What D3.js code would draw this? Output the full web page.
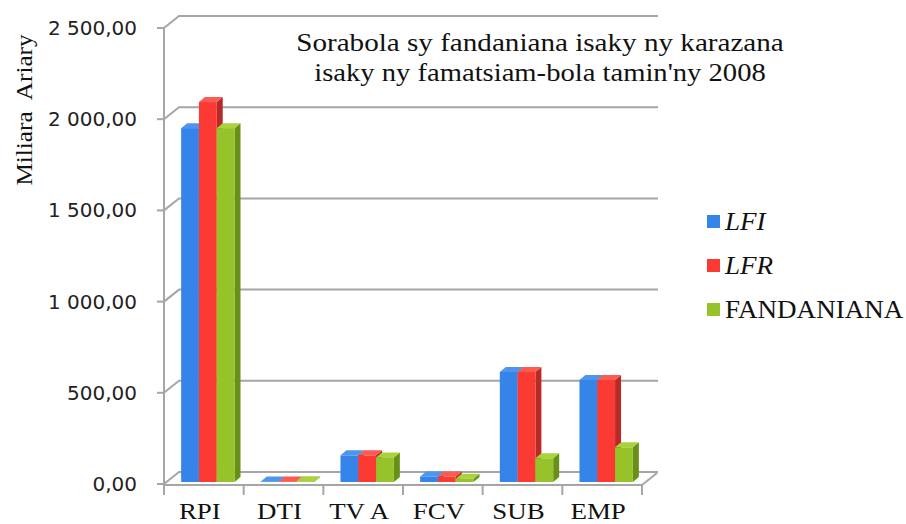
<!DOCTYPE html>
<html>
<head>
<meta charset="utf-8">
<script src="https://cdn.jsdelivr.net/npm/d3@7"></script>
<style>
  body { margin: 0; background: #fff; }
  svg { display: block; }
  .grid { stroke: #a6a6a6; stroke-width: 2; fill: none; }
  .tick-label { font-family: "DejaVu Sans", sans-serif; font-size: 20px; fill: #222; }
</style>
</head>
<body>
<svg width="906" height="524"></svg>
<script>
var categories = ["RPI", "DTI", "TVA", "FCV", "SUB", "EMP"];
var catLabels = ["RPI", "DTI", "TV A", "FCV", "SUB", "EMP"];
var series = ["LFI", "LFR", "FANDANIANA"];
var lfi = [1940, 3, 146, 30, 603, 559];
var lfr = [2083, 3, 146, 30, 603, 559];
var fandaniana = [1940, 4, 135, 18, 130, 190];
var yTicks = [0, 500, 1000, 1500, 2000, 2500];
var yTickLabels = ["0,00", "500,00", "1 000,00", "1 500,00", "2 000,00", "2 500,00"];

var colors = {
  LFI: {front: "#3584e9", top: "#4e95ee", side: "#2862b3"},
  LFR: {front: "#fb3a33", top: "#fd5a52", side: "#b82a26"},
  FANDANIANA: {front: "#97c32a", top: "#a9d23d", side: "#688f17"}
};

var serifFont = "'Liberation Serif', 'Times New Roman', Tinos, 'DejaVu Serif', serif";

var svg = d3.select("svg");

// front plane of the 3d box
var left = 164, right = 642;
var depthX = 15, depthY = -12;

var y = d3.scaleLinear().domain([0, 2500]).range([484, 28]);
var x = d3.scaleBand().domain(categories).range([left, right])
    .paddingInner(0.33).paddingOuter(0.165);
var xs = d3.scaleBand().domain(series).range([0, x.bandwidth()]);

var rows = categories.map(function(c, i) {
  return {cat: c, values: [
    {s: "LFI", v: lfi[i]},
    {s: "LFR", v: lfr[i]},
    {s: "FANDANIANA", v: fandaniana[i]}
  ]};
});

var g = svg.append("g");

// back wall gridlines + left wall diagonals
yTicks.forEach(function(t) {
  g.append("path").attr("class", "grid")
    .attr("d", "M" + left + "," + y(t) + "L" + (left + depthX) + "," + (y(t) + depthY)
      + "L" + (right + depthX + 1) + "," + (y(t) + depthY));
});

// floor
g.append("path").attr("class", "grid")
  .attr("d", "M" + left + "," + (y(0) + 1) + "L" + right + "," + (y(0) + 1)
    + "L" + (right + depthX) + "," + (y(0) + 1 + depthY));

// vertical axis line and ticks
g.append("line").attr("class", "grid")
  .attr("x1", left).attr("x2", left).attr("y1", y(2500)).attr("y2", y(0) + 8);
yTicks.forEach(function(t) {
  g.append("line").attr("class", "grid")
    .attr("x1", left - 7).attr("x2", left).attr("y1", y(t)).attr("y2", y(t));
});

// category ticks
var bounds = categories.map(function(c, i) { return left + i * x.step(); }).concat([right]);
bounds.forEach(function(b) {
  g.append("line").attr("class", "grid")
    .attr("x1", b).attr("x2", b).attr("y1", y(0) + 1).attr("y2", y(0) + 11);
});

// bars
var bx = 4, by = -2, bdx = 6, bdy = -5;
var groups = g.selectAll(".cat").data(rows).enter().append("g")
    .attr("class", "cat")
    .attr("transform", function(d) { return "translate(" + (x(d.cat) + bx) + "," + by + ")"; });

var bars = groups.selectAll(".bar").data(function(d) { return d.values; }).enter().append("g")
    .attr("class", "bar");

bars.append("path")
  .attr("fill", function(d) { return colors[d.s].side; })
  .attr("d", function(d) {
    var x1 = xs(d.s) + xs.bandwidth(), yt = y(d.v), yb = y(0);
    return "M" + x1 + "," + yb + "L" + x1 + "," + yt + "L" + (x1 + bdx) + "," + (yt + bdy)
      + "L" + (x1 + bdx) + "," + (yb + bdy) + "Z";
  });
bars.append("path")
  .attr("fill", function(d) { return colors[d.s].top; })
  .attr("d", function(d) {
    var x0 = xs(d.s), x1 = x0 + xs.bandwidth(), yt = y(d.v);
    return "M" + x0 + "," + yt + "L" + (x0 + bdx) + "," + (yt + bdy) + "L" + (x1 + bdx) + "," + (yt + bdy)
      + "L" + x1 + "," + yt + "Z";
  });
bars.append("rect")
  .attr("fill", function(d) { return colors[d.s].front; })
  .attr("x", function(d) { return xs(d.s); })
  .attr("width", xs.bandwidth())
  .attr("y", function(d) { return y(d.v); })
  .attr("height", function(d) { return y(0) - y(d.v); });

// y tick labels
yTicks.forEach(function(t, i) {
  svg.append("text").attr("class", "tick-label")
    .attr("x", 137).attr("y", y(t)).attr("dy", "0.35em")
    .attr("text-anchor", "end")
    .text(yTickLabels[i]);
});

function serifText(sel, size) {
  return sel.attr("font-family", serifFont).attr("font-size", size).attr("fill", "#111");
}

// the original text is a bit wider than Times, stretch it a little
function stretch(sel, k) {
  sel.each(function() {
    var len = this.getComputedTextLength();
    d3.select(this).attr("textLength", len * k).attr("lengthAdjust", "spacingAndGlyphs");
  });
  return sel;
}

// category labels
categories.forEach(function(c, i) {
  stretch(serifText(svg.append("text"), 24)
    .attr("x", x(c) + x.bandwidth() / 2 - 4).attr("y", 519)
    .attr("text-anchor", "middle")
    .text(catLabels[i]), 1.12);
});

// y axis title
stretch(serifText(svg.append("text"), 24)
  .attr("transform", "translate(32,110) rotate(-90)")
  .attr("text-anchor", "middle")
  .attr("xml:space", "preserve")
  .text("Miliara  Ariary"), 1.05);

// title
stretch(serifText(svg.append("text"), 26)
  .attr("x", 540).attr("y", 51).attr("text-anchor", "middle")
  .text("Sorabola sy fandaniana isaky ny karazana"), 1.12);
stretch(serifText(svg.append("text"), 26)
  .attr("x", 540).attr("y", 81).attr("text-anchor", "middle")
  .text("isaky ny famatsiam-bola tamin'ny 2008"), 1.1);

// legend
var legend = svg.selectAll(".legend").data(series).enter().append("g")
    .attr("class", "legend")
    .attr("transform", function(d, i) { return "translate(707," + (221 + i * 44) + ")"; });
legend.append("rect")
  .attr("x", 0).attr("y", -6).attr("width", 13).attr("height", 13)
  .attr("fill", function(d) { return colors[d].front; });
stretch(serifText(legend.append("text"), 26)
  .attr("x", 18).attr("y", 0).attr("dy", "0.35em")
  .attr("font-style", function(d) { return d === "FANDANIANA" ? "normal" : "italic"; })
  .text(function(d) { return d; }), 1.04);
</script>
</body>
</html>
